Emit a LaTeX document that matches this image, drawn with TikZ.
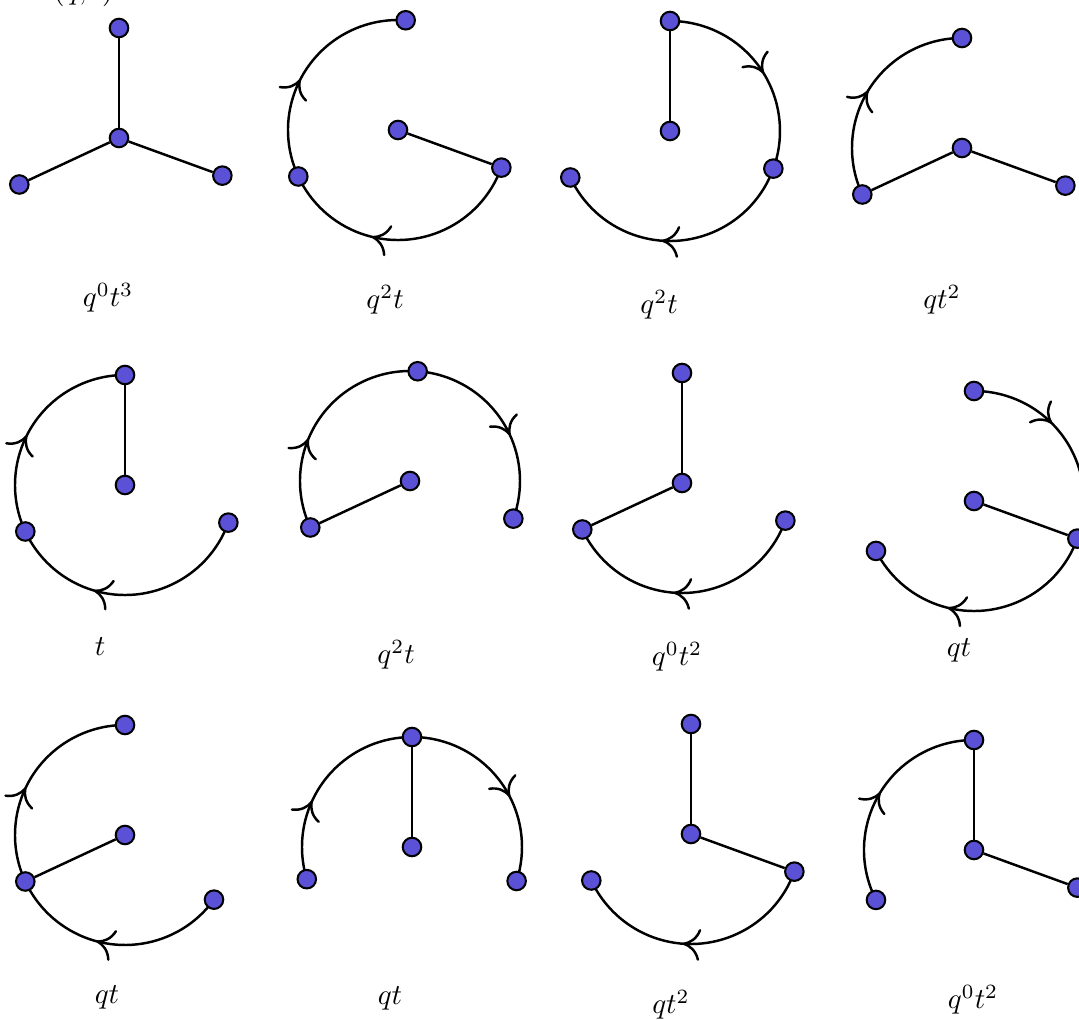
\documentclass[tikz,border=0pt]{standalone}
\usepackage{amsmath}
\usepackage{tikz}
\usetikzlibrary{arrows.meta,decorations.markings,backgrounds}

\definecolor{vtxblue}{RGB}{91,81,214}

\begin{document}
\begin{tikzpicture}[
    x=0.345pt, y=0.345pt,
    vtx/.style={circle, draw, fill=vtxblue, line width=0.7pt, minimum size=6.4pt, inner sep=0pt},
    edge/.style={line width=0.85pt},
    flow/.style={line width=0.85pt, decoration={markings, mark=at position #1 with {\arrow{Computer Modern Rightarrow[length=6pt, width=11pt]}}}, postaction={decorate}},
    lbl/.style={inner sep=1pt}
]
\useasboundingbox (0,0) rectangle (1079,1020);

% ---------- Caption line (cut off at the top) ----------
\node[anchor=base east, inner sep=0pt] (cap) at (122,1020) {$\cdot\, s(q,t)$.};

% ---------- Row 1 ----------
\begin{scope}[shift={(119,882)}]
  \node[vtx] (d1c) at (0,0) {};
  \node[vtx] (d1t) at (90:110) {};
  \node[vtx] (d1l) at (205:110) {};
  \node[vtx] (d1r) at (-20:110) {};
  \node[lbl] (d1q) at (-11,-160) {$q^0t^3$};
\end{scope}
\begin{scope}[shift={(398,890)}]
  \node[vtx] (d2c) at (0,0) {};
  \node[vtx] (d2t) at (86:110) {};
  \node[vtx] (d2l) at (205:110) {};
  \node[vtx] (d2r) at (-20:110) {};
  \node[lbl] (d2q) at (-13,-170) {$q^2t$};
\end{scope}
\begin{scope}[shift={(670,889)}]
  \node[vtx] (d3c) at (0,0) {};
  \node[vtx] (d3t) at (90:110) {};
  \node[vtx] (d3l) at (205:110) {};
  \node[vtx] (d3r) at (-20:110) {};
  \node[lbl] (d3q) at (-11,-174) {$q^2t$};
\end{scope}
\begin{scope}[shift={(962,872)}]
  \node[vtx] (d4c) at (0,0) {};
  \node[vtx] (d4t) at (90:110) {};
  \node[vtx] (d4l) at (205:110) {};
  \node[vtx] (d4r) at (-20:110) {};
  \node[lbl] (d4q) at (-20,-152) {$qt^2$};
\end{scope}

% ---------- Row 2 ----------
\begin{scope}[shift={(125,535)}]
  \node[vtx] (d5c) at (0,0) {};
  \node[vtx] (d5t) at (90:110) {};
  \node[vtx] (d5l) at (205:110) {};
  \node[vtx] (d5r) at (-20:110) {};
  \node[lbl] (d5q) at (-25,-162) {$t$};
\end{scope}
\begin{scope}[shift={(410,539)}]
  \node[vtx] (d6c) at (0,0) {};
  \node[vtx] (d6t) at (86:110) {};
  \node[vtx] (d6l) at (205:110) {};
  \node[vtx] (d6r) at (-20:110) {};
  \node[lbl] (d6q) at (-14,-174) {$q^2t$};
\end{scope}
\begin{scope}[shift={(682,537)}]
  \node[vtx] (d7c) at (0,0) {};
  \node[vtx] (d7t) at (90:110) {};
  \node[vtx] (d7l) at (205:110) {};
  \node[vtx] (d7r) at (-20:110) {};
  \node[lbl] (d7q) at (-5,-174) {$q^0t^2$};
\end{scope}
\begin{scope}[shift={(974,519)}]
  \node[vtx] (d8c) at (0,0) {};
  \node[vtx] (d8t) at (90:110) {};
  \node[vtx] (d8l) at (207:110) {};
  \node[vtx] (d8r) at (-20:110) {};
  \node[lbl] (d8q) at (-15,-149) {$qt$};
\end{scope}

% ---------- Row 3 ----------
\begin{scope}[shift={(125,185)}]
  \node[vtx] (d9c) at (0,0) {};
  \node[vtx] (d9t) at (90:110) {};
  \node[vtx] (d9l) at (205:110) {};
  \node[vtx] (d9r) at (-36:110) {};
  \node[lbl] (d9q) at (-18,-162) {$qt$};
\end{scope}
\begin{scope}[shift={(412,173)}]
  \node[vtx] (d10c) at (0,0) {};
  \node[vtx] (d10t) at (90:110) {};
  \node[vtx] (d10l) at (197:110) {};
  \node[vtx] (d10r) at (-18:110) {};
  \node[lbl] (d10q) at (-22,-151) {$qt$};
\end{scope}
\begin{scope}[shift={(691,186)}]
  \node[vtx] (d11c) at (0,0) {};
  \node[vtx] (d11t) at (90:110) {};
  \node[vtx] (d11l) at (205:110) {};
  \node[vtx] (d11r) at (-20:110) {};
  \node[lbl] (d11q) at (-20,-171) {$qt^2$};
\end{scope}
\begin{scope}[shift={(974,170)}]
  \node[vtx] (d12c) at (0,0) {};
  \node[vtx] (d12t) at (90:110) {};
  \node[vtx] (d12l) at (207:110) {};
  \node[vtx] (d12r) at (-20:110) {};
  \node[lbl] (d12q) at (-1,-150) {$q^0t^2$};
\end{scope}

% ---------- Edges and arcs (behind the vertices) ----------
\begin{scope}[on background layer]
  \draw[edge] (d1c) -- (d1t);
  \draw[edge] (d1c) -- (d1l);
  \draw[edge] (d1c) -- (d1r);

  \draw[edge] (d2c) -- (d2r);
  \draw[flow=0.62] (d2r.center) arc[start angle=-20, end angle=-155, radius=110];
  \draw[flow=0.44] (d2l.center) arc[start angle=205, end angle=86, radius=110];

  \draw[edge] (d3c) -- (d3t);
  \draw[flow=0.53] (d3t.center) arc[start angle=90, end angle=-20, radius=110];
  \draw[flow=0.55] (d3r.center) arc[start angle=-20, end angle=-155, radius=110];

  \draw[edge] (d4c) -- (d4l);
  \draw[edge] (d4c) -- (d4r);
  \draw[flow=0.49] (d4l.center) arc[start angle=205, end angle=90, radius=110];

  \draw[edge] (d5c) -- (d5t);
  \draw[flow=0.64] (d5r.center) arc[start angle=-20, end angle=-155, radius=110];
  \draw[flow=0.45] (d5l.center) arc[start angle=205, end angle=90, radius=110];

  \draw[edge] (d6c) -- (d6l);
  \draw[flow=0.40] (d6l.center) arc[start angle=205, end angle=86, radius=110];
  \draw[flow=0.58] (d6t.center) arc[start angle=86, end angle=-20, radius=110];

  \draw[edge] (d7c) -- (d7t);
  \draw[edge] (d7c) -- (d7l);
  \draw[flow=0.55] (d7r.center) arc[start angle=-20, end angle=-155, radius=110];

  \draw[edge] (d8c) -- (d8r);
  \draw[flow=0.41] (d8t.center) arc[start angle=90, end angle=-20, radius=110];
  \draw[flow=0.63] (d8r.center) arc[start angle=-20, end angle=-153, radius=110];

  \draw[edge] (d9c) -- (d9l);
  \draw[flow=0.58] (d9r.center) arc[start angle=-36, end angle=-155, radius=110];
  \draw[flow=0.44] (d9l.center) arc[start angle=205, end angle=90, radius=110];

  \draw[edge] (d10c) -- (d10t);
  \draw[flow=0.39] (d10l.center) arc[start angle=197, end angle=90, radius=110];
  \draw[flow=0.58] (d10t.center) arc[start angle=90, end angle=-18, radius=110];

  \draw[edge] (d11c) -- (d11t);
  \draw[edge] (d11c) -- (d11r);
  \draw[flow=0.55] (d11r.center) arc[start angle=-20, end angle=-155, radius=110];

  \draw[edge] (d12c) -- (d12t);
  \draw[edge] (d12c) -- (d12r);
  \draw[flow=0.50] (d12l.center) arc[start angle=207, end angle=90, radius=110];
\end{scope}

\end{tikzpicture}
\end{document}
